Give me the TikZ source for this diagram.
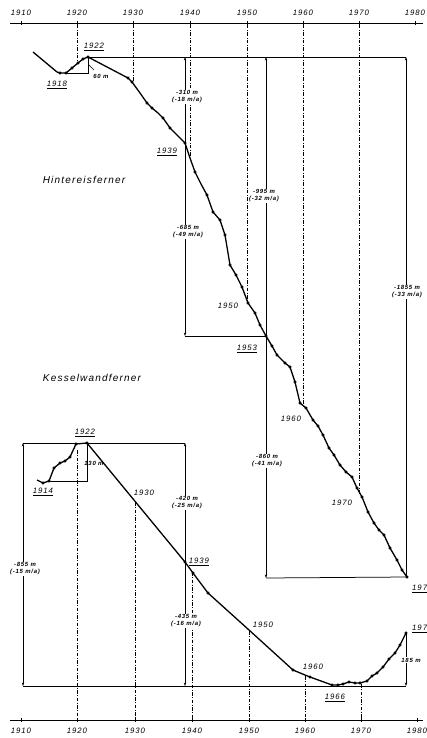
\documentclass[tikz,border=0pt]{standalone}
\usepackage{fontspec}
\newfontfamily\labfont{Liberation Sans}[LetterSpace=12]
\usetikzlibrary{arrows.meta}
\begin{document}
\begin{tikzpicture}[x=1pt,y=-1pt,
 curve/.style={line width=1.3pt, line join=round},
 meas/.style={line width=0.75pt},
 gridl/.style={line width=0.65pt, dash pattern=on 3.5pt off 1.6pt on 0.8pt off 1.6pt},
 axis/.style={line width=0.85pt},
 arrboth/.style={{Stealth[length=3.5pt,width=2.4pt]}-{Stealth[length=3.5pt,width=2.4pt]}},
 arrup/.style={{Stealth[length=3.5pt,width=2.4pt]}-},
 arrdown/.style={-{Stealth[length=3.5pt,width=2.4pt]}},
 yr/.style={font=\labfont\itshape\fontsize{7.8}{9}\selectfont, inner sep=1pt},
 nm/.style={font=\labfont\itshape\fontsize{10}{12}\selectfont, inner sep=1pt},
 sm/.style={font=\labfont\bfseries\itshape\fontsize{6}{7}\selectfont, fill=white, inner sep=1pt, align=center},
 dotm/.style={mark=*, mark size=1.45pt, only marks}
]
\useasboundingbox (0,0) rectangle (427,738);

% ---------------- axes ----------------
\coordinate (ta0) at (10,23); \coordinate (ta1) at (423,23);
\coordinate (ba0) at (10,720); \coordinate (ba1) at (423,720);
\draw[axis] (ta0) -- (ta1);
\draw[axis] (ba0) -- (ba1);
\foreach \x/\y in {21/1910,77/1920,133/1930,190/1940,247/1950,303/1960,359/1970,415/1980}{
  \node[yr] (ty\y) at (\x,13) {\y};
  \draw[axis] (\x,21) -- (\x,25);
}
\foreach \x/\y in {21/1910,77/1920,135/1930,192/1940,249/1950,305/1960,361/1970,417/1980}{
  \node[yr] (by\y) at (\x,731) {\y};
  \draw[axis] (\x,718) -- (\x,722);
}

% ---------------- decade guide lines ----------------
\foreach \x/\e in {77/62,133/81,190/157,247/302,303/405,359/495}{
  \draw[gridl] (\x,25) -- (\x,\e);
}
\foreach \x/\s in {77/450,135/502,192/572,249/631,305/676,361/684}{
  \draw[gridl] (\x,\s) -- (\x,718);
}

% ---------------- Hintereisferner measurement frame ----------------
\coordinate (h22) at (88,57);
\coordinate (h39) at (185,143);
\coordinate (h53) at (266,336);
\coordinate (h78) at (407,577);
\coordinate (hA) at (185,57);
\coordinate (hB) at (185,336);
\coordinate (hC) at (266,57);
\coordinate (hD) at (266,578);
\coordinate (hE) at (406,57);
\coordinate (hF) at (406,577);
\draw[meas] (h22) -- (hE);
\draw[meas, arrboth] (hA) -- (hB);
\draw[meas] (hB) -- (h53);
\draw[meas, arrboth] (hC) -- (hD);
\draw[meas] (hD) -- (h78);
\draw[meas, arrup] (hE) -- (hF);
% 60 m step
\coordinate (h18) at (66,73);
\coordinate (h60) at (88,73);
\draw[meas] (h18) -- (h60) -- (h22);
\coordinate (l60a) at (88,64); \coordinate (l60b) at (94,70);
\draw[line width=0.5pt] (l60a) -- (l60b);

% ---------------- Kesselwandferner measurement frame ----------------
\coordinate (k14) at (49,481);
\coordinate (k22) at (87,443);
\coordinate (k130) at (87,481);
\coordinate (k78) at (406,633);
\coordinate (kA) at (23,443);
\coordinate (kB) at (23,686);
\coordinate (kC) at (185,443);
\coordinate (kD) at (185,686);
\coordinate (kE) at (406,686);
\draw[meas] (kA) -- (kC);
\draw[meas] (kB) -- (kE);
\draw[meas, arrboth] (kA) -- (kB);
\draw[meas, arrboth] (kC) -- (kD);
\draw[meas, arrdown] (k78) -- (kE);
\draw[meas] (k14) -- (k130) -- (k22);

% ---------------- curves ----------------
\draw[curve] plot coordinates {(33,52) (57,72) (60,73) (66,73) (72,68) (78,63) (83,59) (88,57) (128,78) (132,82) (140,93) (147,103) (152,108) (158,113) (163,118) (170,128) (178,136) (185,143) (190,158) (195,172) (201,184) (207,195) (213,212) (220,220) (225,235) (230,265) (236,275) (242,287) (248,303) (255,313) (260,325) (266,336) (272,346) (277,355) (285,363) (290,367) (295,382) (300,403) (306,408) (313,420) (318,426) (323,435) (329,448) (334,455) (340,465) (346,472) (352,477) (357,488) (362,497) (368,512) (374,523) (379,530) (384,535) (390,548) (397,560) (402,570) (407,577)};
\draw plot[dotm] coordinates {(60,73) (66,73) (72,68) (78,63) (83,59) (88,57) (128,78) (132,82) (147,103) (152,108) (163,118) (170,128) (185,143) (195,172) (207,195) (213,212) (220,220) (225,235) (230,265) (236,275) (242,287) (248,303) (255,313) (260,325) (266,336) (272,346) (277,355) (285,363) (290,367) (295,382) (300,403) (306,408) (313,420) (318,426) (323,435) (329,448) (334,455) (340,465) (346,472) (352,477) (357,488) (362,497) (368,512) (374,523) (379,530) (384,535) (390,548) (397,560) (402,570) (407,577)};

\draw[curve] plot coordinates {(37,480) (43,483) (49,481) (54,468) (60,463) (65,461) (70,457) (76,444) (87,443) (185,562) (193,573) (208,593) (249,630) (293,670) (305,675) (310,677) (332,685) (338,685) (343,684) (349,682) (355,683) (360,683) (367,681) (372,676) (377,673) (383,667) (389,659) (395,653) (400,645) (406,633)};
\draw plot[dotm] coordinates {(43,483) (49,481) (54,468) (60,463) (65,461) (70,457) (76,444) (87,443) (185,562) (193,573) (208,593) (293,670) (310,677) (332,685) (338,685) (343,684) (349,682) (355,683) (360,683) (367,681) (372,676) (377,673) (383,667) (389,659) (395,653) (400,645) (406,633)};

% ---------------- labels: Hintereisferner ----------------
\node[yr] (lh1922) at (94,47) {\underline{1922}};
\node[yr] (lh1918) at (57,85) {\underline{1918}};
\node[sm, fill=none] (l60) at (101,76) {60 m};
\node[sm] (lm310) at (187,97) {-310 m\\(-18 m/a)};
\node[yr] (lh1939) at (167,152) {\underline{1939}};
\node[nm] (hname) at (84,180) {Hintereisferner};
\node[sm] (lm685) at (188,232) {-685 m\\(-49 m/a)};
\node[sm] (lm995) at (264,196) {-995 m\\(-32 m/a)};
\node[sm] (lm1855) at (407,292) {-1855 m\\(-33 m/a)};
\node[yr] (lh1950) at (228,306) {1950};
\node[yr] (lh1953) at (247,349) {\underline{1953}};
\node[yr] (lh1960) at (291,419) {1960};
\node[sm] (lm860) at (267,461) {-860 m\\(-41 m/a)};
\node[yr] (lh1970) at (342,503) {1970};
\node[yr, anchor=west] (lh1978) at (411,589) {\underline{197}};

% ---------------- labels: Kesselwandferner ----------------
\node[nm] (kname) at (92,378) {Kesselwandferner};
\node[yr] (lk1922) at (85,433) {\underline{1922}};
\node[sm, fill=none] (l130) at (94,463) {130 m};
\node[yr] (lk1914) at (43,492) {\underline{1914}};
\node[yr] (lk1930) at (144,493) {1930};
\node[sm] (lm420) at (187,503) {-420 m\\(-25 m/a)};
\node[sm] (lm855) at (25,569) {-855 m\\(-15 m/a)};
\node[yr] (lk1939) at (199,562) {\underline{1939}};
\node[sm] (lm435) at (186,621) {-435 m\\(-16 m/a)};
\node[yr] (lk1950) at (263,625) {1950};
\node[yr] (lk1960) at (313,667) {1960};
\node[sm] (l185) at (411,660) {185 m};
\node[yr] (lk1966) at (335,698) {\underline{1966}};
\node[yr, anchor=west] (lk1978) at (411,629) {\underline{197}};
\end{tikzpicture}
\end{document}
